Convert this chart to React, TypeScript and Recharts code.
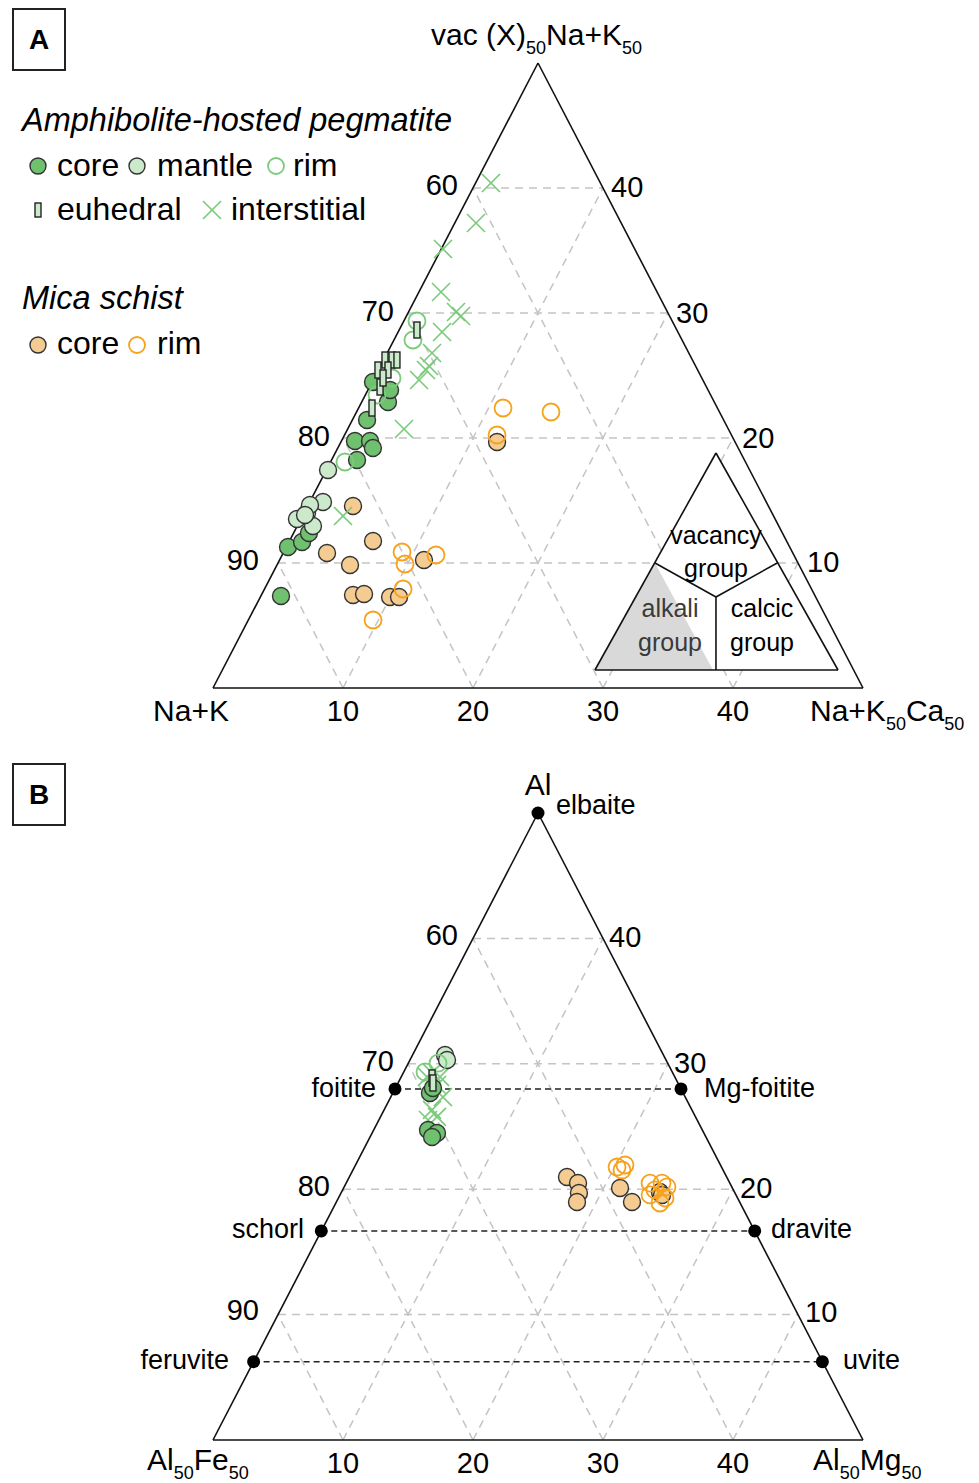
import React from 'react';
import { ComposedChart, Scatter, XAxis, YAxis, ReferenceLine, Area } from 'recharts';

const FONT = '"Liberation Sans", Arial, Helvetica, sans-serif';
const CORE = '#6fc06f';
const MANTLE = '#cbe9cb';
const GREEN_LINE = '#7ccb7c';
const TAN = '#f4cb91';
const ORANGE = '#f7a21c';

type P = [number, number];

// Panel A: x = position along the base (0–50), y = vac (X) (0–50)
const pegCoreA: P[] = [
  [5.23, 7.36], [5.77, 11.28], [6.85, 11.68], [7.38, 12.4], [10.92, 19.76], [12.08, 19.76],
  [12.3, 19.2], [11.08, 18.24], [11.85, 21.44], [13.46, 22.88], [13.62, 23.84], [12.31, 24.48],
];
const pegMantleA: P[] = [
  [6.46, 13.52], [7.23, 14.0], [7.69, 12.96], [8.46, 14.88], [7.46, 14.64], [7.08, 13.84], [8.85, 17.44],
];
const pegRimA: P[] = [[10.15, 18.08], [12.62, 23.44], [13.77, 24.8], [15.38, 27.84], [15.69, 29.36]];
const euhedralA: P[] = [
  [15.69, 28.64], [12.23, 22.4], [12.85, 24.08], [12.69, 25.44], [13.23, 26.24], [13.77, 26.24],
  [14.15, 26.24], [13.46, 25.44], [13.08, 24.8],
];
const interstitialA: P[] = [
  [21.38, 40.4], [20.23, 37.2], [17.69, 35.12], [17.54, 31.68], [18.69, 30.08], [19.08, 29.76],
  [17.62, 28.48], [16.85, 26.8], [16.62, 25.76], [16.38, 25.44], [15.85, 24.64], [14.69, 20.72], [10.0, 13.76],
];
const schistCoreA: P[] = [
  [10.77, 14.56], [12.31, 11.76], [8.77, 10.8], [10.54, 9.84], [10.77, 7.44], [11.62, 7.52],
  [13.62, 7.28], [14.31, 7.28], [16.23, 10.24], [21.85, 19.68],
];
const schistRimA: P[] = [
  [14.54, 10.88], [14.77, 9.92], [17.15, 10.64], [14.62, 7.92], [12.31, 5.44],
  [22.31, 22.4], [26.0, 22.08], [21.85, 20.24],
];

// Panel B: x = position along the base (0–50), y = Al excess (0–50)
const pegCoreB: P[] = [[16.69, 27.67], [16.92, 28.07], [16.54, 24.72], [17.23, 24.48], [16.85, 24.16]];
const pegMantleB: P[] = [[17.85, 30.7], [18.0, 30.3]];
const pegRimB: P[] = [[17.31, 30.06], [16.31, 29.35]];
const euhedralB: P[] = [[16.85, 28.87], [16.92, 28.47]];
const interstitialB: P[] = [
  [16.85, 29.27], [16.46, 28.95], [17.46, 28.95], [17.23, 28.31], [17.69, 27.35],
  [16.85, 26.32], [17.23, 25.76], [16.54, 25.52],
];
const schistCoreB: P[] = [
  [27.23, 20.97], [28.08, 20.49], [28.15, 19.7], [28.0, 18.98], [31.31, 20.1], [32.23, 18.98],
  [34.38, 19.78], [34.54, 19.54],
];
const schistRimB: P[] = [
  [31.08, 21.77], [31.46, 21.53], [31.69, 21.93], [33.62, 20.49], [34.0, 19.94], [34.54, 20.49],
  [34.77, 19.3], [33.62, 19.54], [34.38, 18.9], [34.92, 20.18],
];
const endMemberNames = ['elbaite', 'foitite', 'Mg-foitite', 'schorl', 'dravite', 'feruvite', 'uvite'];
const endMemberXY: P[] = [[25, 50], [14, 28], [36, 28], [8.33, 16.67], [41.67, 16.67], [3.125, 6.25], [46.875, 6.25]];

const STEPS = [10, 20, 30, 40];
const leftTicks = ['60', '70', '80', '90'];
const rightTicks = ['40', '30', '20', '10'];

const rows = (pts: P[]) => pts.map(([x, y]) => ({ x, y }));

type Seg = [P, P];
const horiz = (v: number): Seg => [[v / 2, v], [50 - v / 2, v]];
const leftPar = (v: number): Seg => [[v, 0], [v + (50 - v) / 2, 50 - v]];
const rightPar = (v: number): Seg => [[v, 0], [v / 2, v]];
const gridFull: Seg[] = STEPS.flatMap((v) => [horiz(v), leftPar(v), rightPar(v)]);
// panel A grid, interrupted by the classification inset
const gridA: Seg[] = [
  horiz(20), horiz(30), horiz(40), [[5, 10], [34, 10]], [[43.45, 10], [45, 10]],
  leftPar(10), leftPar(20), [[30, 0], [30.72, 1.44]], [[39.06, 18.12], [40, 20]],
  [[40, 0], [40.72, 1.44]], [[44.26, 8.51], [45, 10]],
  rightPar(10), rightPar(20), rightPar(30), [[40, 0], [39.28, 1.44]], [[34.5, 10.99], [20, 40]],
];
const frame: Seg[] = [[[0, 0], [50, 0]], [[0, 0], [25, 50]], [[25, 50], [50, 0]]];
const inset: Seg[] = [
  [[29.38, 1.44], [38.69, 18.8]], [[38.69, 18.8], [48.08, 1.44]], [[29.38, 1.44], [48.08, 1.44]],
  [[34.0, 10.0], [38.69, 7.28]], [[43.4, 10.0], [38.69, 7.28]], [[38.69, 7.28], [38.69, 1.44]],
];
const alkaliField = rows([[29.38, 1.44], [34.0, 10.0], [38.46, 1.44]]);
const tieLines: Seg[] = [
  [endMemberXY[1], endMemberXY[2]], [endMemberXY[3], endMemberXY[4]], [endMemberXY[5], endMemberXY[6]],
];

const Dot = (fill: string) => (p: any) => (
  <circle cx={p.cx} cy={p.cy} r={8.5} fill={fill} stroke="#333" strokeWidth={1.4} />
);
const Ring = (stroke: string) => (p: any) => (
  <circle cx={p.cx} cy={p.cy} r={8.5} fill="none" stroke={stroke} strokeWidth={1.8} />
);
const Cross = (p: any) => (
  <g stroke={GREEN_LINE} strokeWidth={1.7}>
    <line x1={p.cx - 9} y1={p.cy - 9} x2={p.cx + 9} y2={p.cy + 9} />
    <line x1={p.cx - 9} y1={p.cy + 9} x2={p.cx + 9} y2={p.cy - 9} />
  </g>
);
const Prism = (p: any) => (
  <rect x={p.cx - 3} y={p.cy - 8} width={6} height={16} fill={MANTLE} stroke="#222" strokeWidth={1.4} />
);
const Member = (p: any) => <circle cx={p.cx} cy={p.cy} r={6.5} fill="#000" />;

const segLines = (segs: Seg[], key: string, stroke: string, width: number, dash?: string) =>
  segs.map((s, i) => (
    <ReferenceLine
      key={key + i}
      segment={[{ x: s[0][0], y: s[0][1] }, { x: s[1][0], y: s[1][1] }]}
      stroke={stroke}
      strokeWidth={width}
      strokeDasharray={dash}
    />
  ));

const axes = (xh: number) => [
  <XAxis
    key="x"
    type="number"
    dataKey="x"
    domain={[0, 50]}
    ticks={STEPS}
    axisLine={false}
    tickLine={false}
    tickMargin={6}
    height={xh}
    interval={0}
    tick={{ fontSize: 29, fill: '#000', fontFamily: FONT }}
  />,
  <YAxis key="y" type="number" dataKey="y" domain={[0, 50]} hide />,
];

const series = (
  core: P[], mantle: P[], rim: P[], euh: P[], inter: P[], sCore: P[], sRim: P[],
) => [
  <Scatter key="sc" data={rows(sCore)} dataKey="y" shape={Dot(TAN)} isAnimationActive={false} />,
  <Scatter key="sr" data={rows(sRim)} dataKey="y" shape={Ring(ORANGE)} isAnimationActive={false} />,
  <Scatter key="in" data={rows(inter)} dataKey="y" shape={Cross} isAnimationActive={false} />,
  <Scatter key="pc" data={rows(core)} dataKey="y" shape={Dot(CORE)} isAnimationActive={false} />,
  <Scatter key="pm" data={rows(mantle)} dataKey="y" shape={Dot(MANTLE)} isAnimationActive={false} />,
  <Scatter key="pr" data={rows(rim)} dataKey="y" shape={Ring(GREEN_LINE)} isAnimationActive={false} />,
  <Scatter key="eu" data={rows(euh)} dataKey="y" shape={Prism} isAnimationActive={false} />,
];

function T({ x, y, a = 'start', size = 29, children, style }: any) {
  const tx = a === 'end' ? '-100%' : a === 'middle' ? '-50%' : '0';
  return (
    <div
      style={{
        position: 'absolute', left: x, top: y, transform: `translate(${tx},-50%)`,
        fontSize: size, lineHeight: 1, whiteSpace: 'nowrap', ...style,
      }}
    >
      {children}
    </div>
  );
}
const Sub = ({ children }: any) => (
  <span style={{ fontSize: '0.6em', position: 'relative', top: '0.5em' }}>{children}</span>
);

function Box({ top, label }: { top: number; label: string }) {
  return (
    <div
      style={{
        position: 'absolute', left: 12, top, width: 50, height: 59, border: '2px solid #222',
        display: 'flex', alignItems: 'center', justifyContent: 'center', fontSize: 28, fontWeight: 'bold',
      }}
    >
      {label}
    </div>
  );
}

function Mark({ x, y, children }: any) {
  return (
    <svg style={{ position: 'absolute', left: x - 12, top: y - 12 }} width={24} height={24}>
      <g transform="translate(12,12)">{children}</g>
    </svg>
  );
}

export default function App() {
  const leftY = [185, 311, 436, 560];
  const leftX = [458, 394, 330, 259];
  const rightX = [611, 676, 742, 807];
  return (
    <div
      style={{
        position: 'absolute', left: 0, top: 0, width: 979, height: 1483, background: '#fff',
        fontFamily: FONT, color: '#000', overflow: 'hidden',
      }}
    >
      <div style={{ position: 'absolute', left: 0, top: 0 }}>
        <ComposedChart width={979} height={740} margin={{ top: 63, right: 116, bottom: 0, left: 213 }}>
          {axes(52)}
          <Area
            data={alkaliField}
            dataKey="y"
            type="linear"
            baseValue={1.44}
            fill="#d9d9d9"
            fillOpacity={1}
            stroke="none"
            isAnimationActive={false}
          />
          {segLines(gridA, 'g', '#c4c4c4', 1.5, '8 6')}
          {segLines(frame, 'f', '#111', 1.6)}
          {segLines(inset, 'i', '#111', 1.6)}
          {series(pegCoreA, pegMantleA, pegRimA, euhedralA, interstitialA, schistCoreA, schistRimA)}
        </ComposedChart>
      </div>
      <div style={{ position: 'absolute', left: 0, top: 740 }}>
        <ComposedChart width={979} height={743} margin={{ top: 73, right: 116, bottom: 0, left: 213 }}>
          {axes(43)}
          {segLines(gridFull, 'g', '#c4c4c4', 1.5, '8 6')}
          {segLines(tieLines, 't', '#222', 1.5, '6 4')}
          {segLines(frame, 'f', '#111', 1.6)}
          {series(pegCoreB, pegMantleB, pegRimB, euhedralB, interstitialB, schistCoreB, schistRimB)}
          <Scatter data={rows(endMemberXY)} dataKey="y" shape={Member} isAnimationActive={false} />
        </ComposedChart>
      </div>

      <Box top={8} label="A" />
      <Box top={763} label="B" />

      {/* panel A labels */}
      <T x={431} y={35} size={30}>
        vac (X)<Sub>50</Sub>Na+K<Sub>50</Sub>
      </T>
      <T x={22} y={120} size={32.5} style={{ fontStyle: 'italic' }}>Amphibolite-hosted pegmatite</T>
      <Mark x={38} y={166}><circle r={8} fill={CORE} stroke="#333" strokeWidth={1.4} /></Mark>
      <T x={57} y={165} size={32}>core</T>
      <Mark x={137} y={166}><circle r={8} fill={MANTLE} stroke="#333" strokeWidth={1.4} /></Mark>
      <T x={157} y={165} size={32}>mantle</T>
      <Mark x={276} y={166}><circle r={8} fill="none" stroke={GREEN_LINE} strokeWidth={1.8} /></Mark>
      <T x={293} y={165} size={32}>rim</T>
      <Mark x={38} y={210}><rect x={-3} y={-7} width={6} height={14} fill={MANTLE} stroke="#222" strokeWidth={1.4} /></Mark>
      <T x={57} y={209} size={32}>euhedral</T>
      <Mark x={212} y={210}>
        <g stroke={GREEN_LINE} strokeWidth={1.7}>
          <line x1={-9} y1={-9} x2={9} y2={9} />
          <line x1={-9} y1={9} x2={9} y2={-9} />
        </g>
      </Mark>
      <T x={231} y={209} size={32}>interstitial</T>
      <T x={22} y={298} size={32.5} style={{ fontStyle: 'italic' }}>Mica schist</T>
      <Mark x={38} y={345}><circle r={8} fill={TAN} stroke="#333" strokeWidth={1.4} /></Mark>
      <T x={57} y={343} size={32}>core</T>
      <Mark x={137} y={345}><circle r={8} fill="none" stroke={ORANGE} strokeWidth={1.8} /></Mark>
      <T x={157} y={343} size={32}>rim</T>

      {leftTicks.map((t, i) => (
        <T key={'la' + t} x={leftX[i]} y={leftY[i]} a="end">{t}</T>
      ))}
      {rightTicks.map((t, i) => (
        <T key={'ra' + t} x={rightX[i]} y={leftY[i] + 2}>{t}</T>
      ))}
      <T x={229} y={711} a="end" size={30}>Na+K</T>
      <T x={810} y={711} size={30}>
        Na+K<Sub>50</Sub>Ca<Sub>50</Sub>
      </T>
      <T x={716} y={535} a="middle" size={25}>vacancy</T>
      <T x={716} y={568} a="middle" size={25}>group</T>
      <T x={670} y={608} a="middle" size={25} style={{ color: '#3a3a3a' }}>alkali</T>
      <T x={670} y={642} a="middle" size={25} style={{ color: '#3a3a3a' }}>group</T>
      <T x={762} y={608} a="middle" size={25}>calcic</T>
      <T x={762} y={642} a="middle" size={25}>group</T>

      {/* panel B labels */}
      <T x={538} y={785} a="middle" size={30}>Al</T>
      <T x={556} y={805} size={27}>{endMemberNames[0]}</T>
      <T x={376} y={1088} a="end" size={27}>{endMemberNames[1]}</T>
      <T x={704} y={1088} size={27}>{endMemberNames[2]}</T>
      <T x={304} y={1229} a="end" size={27}>{endMemberNames[3]}</T>
      <T x={771} y={1229} size={27}>{endMemberNames[4]}</T>
      <T x={229} y={1360} a="end" size={27}>{endMemberNames[5]}</T>
      <T x={843} y={1360} size={27}>{endMemberNames[6]}</T>
      {leftTicks.map((t, i) => (
        <T key={'lb' + t} x={leftX[i]} y={leftY[i] + 750} a="end">{t}</T>
      ))}
      {rightTicks.map((t, i) => (
        <T key={'rb' + t} x={rightX[i] - 2} y={leftY[i] + 752}>{t}</T>
      ))}
      <T x={147} y={1460} size={30}>
        Al<Sub>50</Sub>Fe<Sub>50</Sub>
      </T>
      <T x={813} y={1460} size={30}>
        Al<Sub>50</Sub>Mg<Sub>50</Sub>
      </T>
    </div>
  );
}
